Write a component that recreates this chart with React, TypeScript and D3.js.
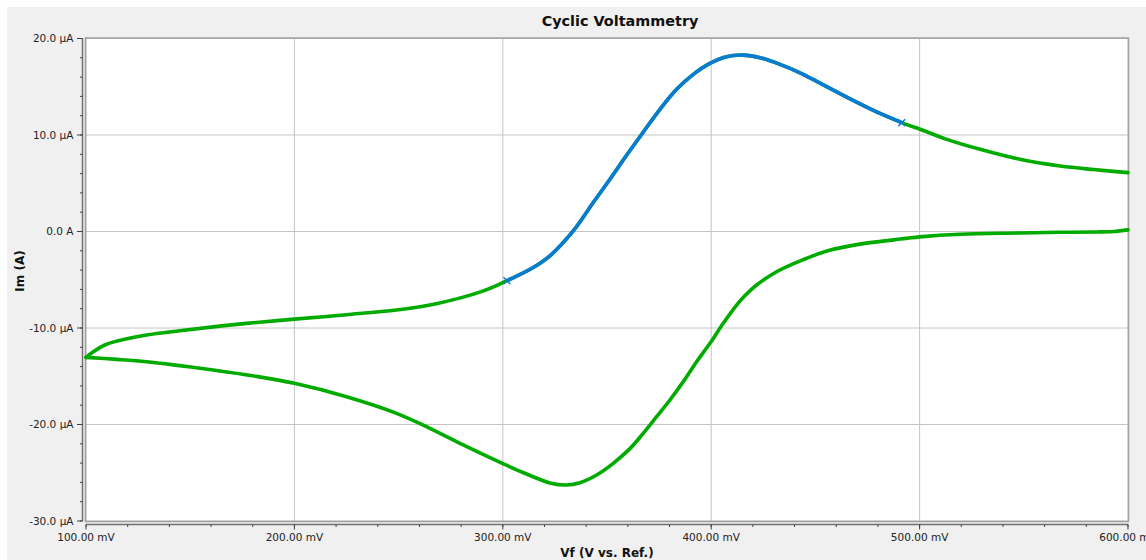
import React from "react";
import * as d3 from "d3";

// Potential (mV) / current (µA) pairs
const lowerBranch: [number, number][] = [
  [100, -13.04], [115, -13.25], [129, -13.49], [145, -13.9], [161, -14.35],
  [180, -14.95], [200, -15.73], [225, -17.12], [249, -18.84], [265, -20.39],
  [281, -22.12], [290, -23.05], [300, -24.05], [310, -25.0], [322.6, -26.05],
  [330.6, -26.27], [337, -26.03], [345, -25.23], [353, -24.02], [361, -22.5],
  [367.4, -20.91], [373.8, -19.19], [380.2, -17.46], [386.6, -15.56], [393, -13.49],
  [399.4, -11.59], [405.8, -9.51], [412.2, -7.62], [416, -6.68], [421.8, -5.54],
  [431.4, -4.17], [444.2, -2.92], [456, -1.99], [471.4, -1.31], [487.5, -0.87],
  [500, -0.56], [519.5, -0.28], [548, -0.16], [568, -0.08], [585, -0.05],
  [593, 0.0], [600, 0.17],
];

const upperBranch: [number, number][] = [
  [100, -13.04], [103.5, -12.45], [109, -11.76], [115, -11.35], [129, -10.73],
  [145, -10.28], [161, -9.88], [177, -9.52], [200, -9.08], [225, -8.62],
  [249, -8.13], [265, -7.62], [281, -6.8], [290, -6.2], [297, -5.6],
  [302, -5.1], [314.6, -3.73], [322.6, -2.52], [333.8, 0.06], [343.4, 3.0],
  [351.4, 5.41], [359.4, 7.9], [367.4, 10.3], [375.4, 12.66], [383.4, 14.73],
  [391.4, 16.28], [399.4, 17.42], [407.4, 18.12], [415.4, 18.28], [423.4, 18.01],
  [433, 17.32], [442.6, 16.45], [452.2, 15.38], [461.8, 14.28], [471.4, 13.22],
  [481, 12.23], [491.4, 11.28], [500.3, 10.59], [513, 9.55], [529, 8.52],
  [548, 7.49], [567.5, 6.79], [583.5, 6.42], [600, 6.1],
];

const highlightRange: [number, number] = [302, 491.4];

const xTicks = [100, 200, 300, 400, 500, 600];
const yTicks = [20, 10, 0, -10, -20, -30];
const xTickLabels = ["100.00 mV", "200.00 mV", "300.00 mV", "400.00 mV", "500.00 mV", "600.00 mV"];
const yTickLabels = ["20.0 µA", "10.0 µA", "0.0 A", "-10.0 µA", "-20.0 µA", "-30.0 µA"];

const title = "Cyclic Voltammetry";
const xTitle = "Vf (V vs. Ref.)";
const yTitle = "Im (A)";

export default function App() {
  const W = 1146, H = 560;
  const left = 86, right = 1128, top = 38.5, bottom = 521;
  const x = d3.scaleLinear().domain([100, 600]).range([left, right]);
  const y = d3.scaleLinear().domain([-30, 20]).range([bottom, top]);

  const line = d3
    .line<[number, number]>()
    .x((d) => x(d[0]))
    .y((d) => y(d[1]))
    .curve(d3.curveCatmullRom.alpha(0.5));

  const blue = upperBranch.filter((d) => d[0] >= highlightRange[0] && d[0] <= highlightRange[1]);
  const blueEnds = [blue[0], blue[blue.length - 1]];

  const green = "#00ab00";
  const blueC = "#0a7bd2";
  const font = "DejaVu Sans, Verdana, sans-serif";

  const xMinor = d3.range(100, 600.01, 20);
  const yMinor = d3.range(-30, 20.01, 2);

  return (
    <svg width={W} height={H} style={{ position: "absolute", left: 0, top: 0 }}>
      <rect x={0} y={0} width={W} height={H} fill="#ffffff" />
      <rect x={7} y={7} width={W - 7} height={H - 7} fill="#f0f0f0" />
      <text x={620} y={26} textAnchor="middle" fontFamily={font} fontWeight="bold" fontSize={14.4} fill="#111">
        {title}
      </text>
      {/* plot area */}
      <rect x={left} y={top} width={right - left} height={bottom - top} fill="#ffffff" />
      {/* grid */}
      {xTicks.map((t) => (
        <line key={"gx" + t} x1={x(t)} x2={x(t)} y1={top} y2={bottom} stroke="#c4c4c4" strokeWidth={1} />
      ))}
      {yTicks.map((t) => (
        <line key={"gy" + t} x1={left} x2={right} y1={y(t)} y2={y(t)} stroke="#c4c4c4" strokeWidth={1} />
      ))}
      <rect x={left - 0.5} y={top - 0.5} width={right - left + 1} height={bottom - top + 1} fill="none" stroke="#a0a0a0" strokeWidth={1.5} />

      {/* curves */}
      <path d={line(lowerBranch) || ""} fill="none" stroke={green} strokeWidth={3.6} strokeLinejoin="round" strokeLinecap="round" />
      <path d={line(upperBranch) || ""} fill="none" stroke={green} strokeWidth={3.6} strokeLinejoin="round" strokeLinecap="round" />
      <path d={line(blue) || ""} fill="none" stroke={blueC} strokeWidth={3.6} strokeLinejoin="round" />
      {blueEnds.map((d, i) => {
        const cx = x(d[0]), cy = y(d[1]), s = 3.5;
        return (
          <g key={"m" + i} stroke={blueC} strokeWidth={1.4}>
            <line x1={cx - s} y1={cy - s} x2={cx + s} y2={cy + s} />
            <line x1={cx - s} y1={cy + s} x2={cx + s} y2={cy - s} />
          </g>
        );
      })}

      {/* y axis */}
      <line x1={82.5} x2={82.5} y1={top} y2={bottom} stroke="#707070" strokeWidth={1.5} />
      {yMinor.map((t) => (
        <line key={"ym" + t} x1={80} x2={82.5} y1={y(t)} y2={y(t)} stroke="#404040" strokeWidth={1} />
      ))}
      {yTicks.map((t, i) => (
        <g key={"yt" + t}>
          <line x1={77} x2={82.5} y1={y(t)} y2={y(t)} stroke="#404040" strokeWidth={1} />
          <text x={73.5} y={y(t) + 3.8} textAnchor="end" fontFamily={font} fontSize={10.5} fill="#222">
            {yTickLabels[i]}
          </text>
        </g>
      ))}

      {/* x axis */}
      <line x1={left} x2={right} y1={524.5} y2={524.5} stroke="#707070" strokeWidth={1.5} />
      {xMinor.map((t) => (
        <line key={"xm" + t} x1={x(t)} x2={x(t)} y1={524.5} y2={527} stroke="#404040" strokeWidth={1} />
      ))}
      {xTicks.map((t, i) => (
        <g key={"xt" + t}>
          <line x1={x(t)} x2={x(t)} y1={524.5} y2={529.5} stroke="#404040" strokeWidth={1} />
          <text x={x(t)} y={541} textAnchor="middle" fontFamily={font} fontSize={10.5} fill="#222">
            {xTickLabels[i]}
          </text>
        </g>
      ))}

      <text x={607} y={557} textAnchor="middle" fontFamily={font} fontWeight="bold" fontSize={12} fill="#111">
        {xTitle}
      </text>
      <text
        transform={`translate(24, 271) rotate(-90)`}
        textAnchor="middle"
        fontFamily={font}
        fontWeight="bold"
        fontSize={12}
        fill="#111"
      >
        {yTitle}
      </text>
    </svg>
  );
}
